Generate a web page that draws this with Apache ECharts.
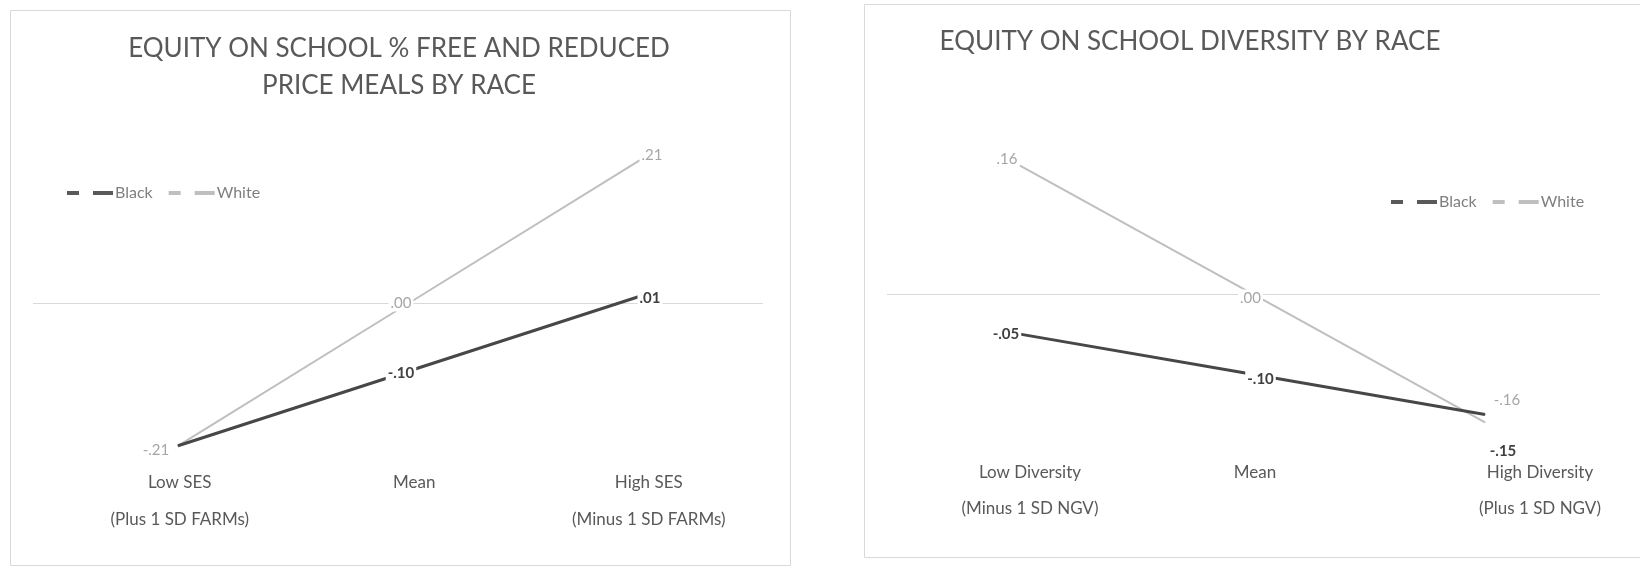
<!DOCTYPE html>
<html>
<head>
<meta charset="utf-8">
<title>Equity by race</title>
<script src="https://cdn.jsdelivr.net/npm/echarts@6/dist/echarts.min.js"></script>
<style>
  html, body { margin: 0; padding: 0; background: #ffffff; }
  #chart { width: 1640px; height: 570px; }
</style>
</head>
<body>
<div id="chart"></div>
<script>
// ---- data ----
const seriesNames = ['Black', 'White'];

const mealsTitle = 'EQUITY ON SCHOOL % FREE AND REDUCED\nPRICE MEALS BY RACE';
const mealsCategories = ['Low SES\n(Plus 1 SD FARMs)', 'Mean', 'High SES\n(Minus 1 SD FARMs)'];
const mealsBlack = [-0.21, -0.10, 0.01];
const mealsWhite = [-0.21, 0.00, 0.21];

const diversityTitle = 'EQUITY ON SCHOOL DIVERSITY BY RACE';
const diversityCategories = ['Low Diversity\n(Minus 1 SD NGV)', 'Mean', 'High Diversity\n(Plus 1 SD NGV)'];
const diversityBlack = [-0.05, -0.10, -0.15];
const diversityWhite = [0.16, 0.00, -0.16];

// ---- styling ----
const FONT = 'Lato, "Open Sans", sans-serif';
const DARK = '#474747';
const LIGHT = '#bfbfbf';
const DARK_LABEL = '#404040';
const LIGHT_LABEL = '#a6a6a6';
const GRID_LINE = '#d9d9d9';
const AXIS_TEXT = '#595959';

// label placement per point: [dx, dy] from the point, or null to hide
const mealsBlackLabelPos = [null, [-8, 2], [10, 2]];
const mealsWhiteLabelPos = [[-22, 4], [-8, 0], [12, -5]];
const diversityBlackLabelPos = [[-14, 0], [8, 5], [18, 37]];
const diversityWhiteLabelPos = [[-13, -6], [-2, 4], [22, -22]];

// horizontal nudge of individual category labels (px, + = right)
const diversityLabelShift = [0, -30, 0];

// e.g. -0.1 -> "-.10", 0.21 -> ".21"
function fmt(v) {
  const s = Math.abs(v).toFixed(2).replace(/^0/, '');
  return (v < 0 && Math.abs(v) >= 0.005 ? '-' : '') + s;
}

function buildPoints(values, placements, labelColor, bold) {
  return values.map((v, i) => {
    const p = placements[i];
    return {
      value: [i, v],
      label: p ? {
        show: true,
        position: 'inside',
        offset: p,
        formatter: () => fmt(v),
        color: labelColor,
        fontFamily: FONT,
        fontSize: 15,
        fontWeight: bold ? 'bold' : 'normal',
        backgroundColor: '#ffffff',
        padding: [1, 2]
      } : { show: false }
    };
  });
}

function lineSeries(name, values, placements, xIdx, yIdx, color, width, labelColor, bold, zeroLine) {
  const s = {
    name: name,
    type: 'line',
    xAxisIndex: xIdx,
    yAxisIndex: yIdx,
    data: buildPoints(values, placements, labelColor, bold),
    symbol: 'circle',
    symbolSize: 1,
    itemStyle: { color: color },
    lineStyle: { color: color, width: width },
    emphasis: { disabled: true },
    animation: false,
    z: bold ? 3 : 2
  };
  if (zeroLine) {
    s.markLine = {
      silent: true,
      symbol: ['none', 'none'],
      label: { show: false },
      lineStyle: { color: GRID_LINE, width: 1, type: 'solid' },
      data: [{ yAxis: 0 }],
      z: 1
    };
  }
  return s;
}

const dashIcon = 'path://M0,0H12V4H0Z M26,0H46V4H26Z';

function legendAt(left, top) {
  return {
    left: left,
    top: top,
    itemWidth: 46,
    itemHeight: 4,
    itemGap: 16,
    selectedMode: false,
    textStyle: { color: '#7f7f7f', fontFamily: FONT, fontSize: 16, padding: [0, 0, 0, -3] },
    data: [
      { name: seriesNames[0], icon: dashIcon, itemStyle: { color: '#595959', borderWidth: 0 } },
      { name: seriesNames[1], icon: dashIcon, itemStyle: { color: LIGHT, borderWidth: 0 } }
    ]
  };
}

const hiddenValueX = (grid, min, max) => ({
  type: 'value', gridIndex: grid, min: min, max: max, show: false
});
const categoryX = (grid, cats, shifts, margin, lineHeight) => ({
  type: 'category', gridIndex: grid,
  data: cats.map((c, i) => {
    const s = shifts ? shifts[i] : 0;
    return s ? { value: c, textStyle: { padding: s > 0 ? [0, 0, 0, 2 * s] : [0, -2 * s, 0, 0] } } : c;
  }),
  position: 'bottom',
  axisLine: { show: false }, axisTick: { show: false },
  axisLabel: { color: AXIS_TEXT, fontFamily: FONT, fontSize: 17, margin: margin, lineHeight: lineHeight, interval: 0 },
  splitLine: { show: false }
});
const hiddenY = (grid, min, max) => ({
  type: 'value', gridIndex: grid, min: min, max: max,
  axisLine: { show: false }, axisTick: { show: false }, axisLabel: { show: false },
  splitLine: { show: false }
});
const gridBox = (left, width, top, height) => ({
  left: left, width: width, top: top, height: height,
  containLabel: false, outerBoundsMode: 'none'
});

const chart = echarts.init(document.getElementById('chart'), null, { renderer: 'canvas' });

chart.setOption({
  backgroundColor: '#ffffff',
  animation: false,
  graphic: [
    { type: 'rect', shape: { x: 10.5, y: 10.5, width: 780, height: 555 },
      style: { fill: 'none', stroke: GRID_LINE, lineWidth: 1 }, silent: true },
    { type: 'rect', shape: { x: 864.5, y: 4.5, width: 790, height: 553 },
      style: { fill: 'none', stroke: GRID_LINE, lineWidth: 1 }, silent: true },
    { type: 'text', x: 399, y: 67.5, silent: true,
      style: { text: mealsTitle, fill: AXIS_TEXT, font: '26px ' + FONT, align: 'center',
               verticalAlign: 'middle', lineHeight: 37 } },
    { type: 'text', x: 1190, y: 42, silent: true,
      style: { text: diversityTitle, fill: AXIS_TEXT, font: '26px ' + FONT, align: 'center',
               verticalAlign: 'middle' } }
  ],
  legend: [legendAt(62, 180), legendAt(1386, 189)],
  grid: [
    // plotting areas
    gridBox(33, 730, 99, 394.4),
    gridBox(887, 713, 93.25, 385.4),
    // category label strips
    gridBox(62.5, 703.5, 440, 20),
    gridBox(902.5, 765, 430, 20)
  ],
  xAxis: [
    hiddenValueX(0, -0.6277, 2.5325),
    hiddenValueX(1, -0.572, 2.4946),
    categoryX(2, mealsCategories, null, 4.5, 37),
    categoryX(3, diversityCategories, diversityLabelShift, 5, 36)
  ],
  yAxis: [
    hiddenY(0, -0.28, 0.30),
    hiddenY(1, -0.23, 0.25),
    hiddenY(2, 0, 1),
    hiddenY(3, 0, 1)
  ],
  series: [
    lineSeries(seriesNames[1], mealsWhite, mealsWhiteLabelPos, 0, 0, LIGHT, 2, LIGHT_LABEL, false, true),
    lineSeries(seriesNames[0], mealsBlack, mealsBlackLabelPos, 0, 0, DARK, 3, DARK_LABEL, true, false),
    lineSeries(seriesNames[1], diversityWhite, diversityWhiteLabelPos, 1, 1, LIGHT, 2, LIGHT_LABEL, false, true),
    lineSeries(seriesNames[0], diversityBlack, diversityBlackLabelPos, 1, 1, DARK, 3, DARK_LABEL, true, false)
  ]
});
</script>
</body>
</html>
